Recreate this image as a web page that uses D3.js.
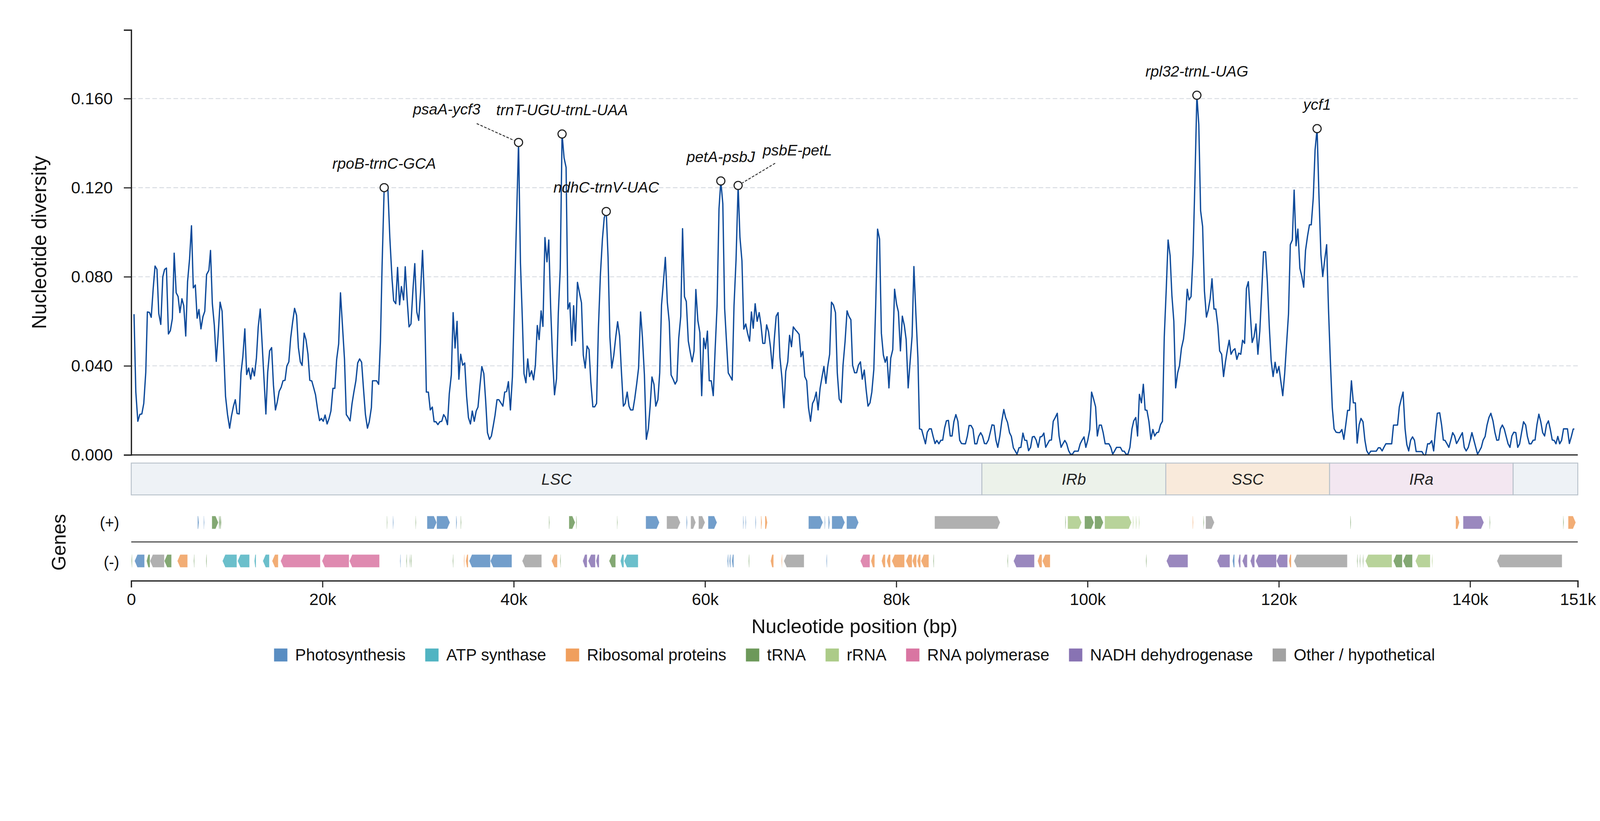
<!DOCTYPE html>
<html>
<head>
<meta charset="utf-8">
<script src="https://cdn.jsdelivr.net/npm/d3@7"></script>
<style>
  html, body { margin: 0; padding: 0; background: #fff; overflow: hidden; }
  svg { display: block; width: 100vw; height: 100vh; font-family: "Liberation Sans", Arial, sans-serif; }
</style>
</head>
<body>
<div id="chart"></div>
<script>
// sliding window nucleotide diversity, [position kb, pi], split by region
const divLSC1 = [
  [0.29,.0632],[0.48,.0282],[0.69,.0151],[0.90,.0182],[1.11,.0184],[1.31,.0231],[1.52,.0371],[1.69,.0642],[1.90,.0640],[2.09,.0618],
  [2.30,.0749],[2.49,.0848],[2.69,.0833],[2.88,.0635],[3.09,.0586],[3.30,.0800],[3.49,.0833],[3.68,.0839],[3.89,.0543],[4.09,.0558],
  [4.30,.0612],[4.49,.0906],[4.70,.0728],[4.90,.0711],[5.09,.0639],[5.30,.0701],[5.49,.0670],[5.70,.0534],[5.89,.0778],[6.10,.0880],
  [6.30,.1029],[6.49,.0750],[6.70,.0763],[6.89,.0614],[7.08,.0653],[7.29,.0566],[7.50,.0621],[7.69,.0645],[7.88,.0810],[8.12,.0829],
  [8.29,.0918],[8.48,.0680],[8.69,.0581],[8.89,.0420],[9.08,.0533],[9.29,.0686],[9.50,.0645],[9.69,.0448],[9.86,.0263],[10.07,.0181],
  [10.29,.0120],[10.48,.0174],[10.69,.0219],[10.88,.0248],[11.07,.0186],[11.29,.0184],[11.48,.0368],[11.67,.0441],[11.88,.0566],[12.07,.0361],
  [12.28,.0390],[12.49,.0340],[12.68,.0390],[12.88,.0355],[13.09,.0435],[13.28,.0575],[13.49,.0655],[13.68,.0505],[13.87,.0352],[14.08,.0184],
  [14.27,.0371],[14.47,.0467],[14.68,.0482],[14.87,.0314],[15.08,.0202],[15.27,.0238],[15.47,.0286],[15.68,.0304],[15.87,.0333],[16.08,.0335],
  [16.27,.0399],[16.48,.0418],[16.67,.0524],[16.87,.0594],[17.08,.0658],[17.29,.0626],[17.48,.0482],[17.68,.0418],[17.87,.0402],[18.08,.0547],
  [18.27,.0518],[18.48,.0452],[18.67,.0335],[18.88,.0332],[19.08,.0301],[19.27,.0270],[19.48,.0206],[19.69,.0154],[19.88,.0164],[20.08,.0151],
  [20.27,.0179],[20.48,.0139],[20.69,.0164],[20.88,.0197],[21.09,.0299],[21.29,.0299],[21.48,.0429],[21.69,.0499],[21.88,.0728],[22.09,.0579],
  [22.30,.0429],[22.49,.0181],[22.69,.0168],[22.88,.0153],[23.09,.0231],[23.28,.0282],[23.49,.0333],[23.68,.0413],[23.88,.0431],[24.09,.0416],
  [24.28,.0301],[24.49,.0181],[24.70,.0120],[24.89,.0149],[25.11,.0212],[25.23,.0333],[25.44,.0333],[25.66,.0333],[25.87,.0317],[26.06,.0511],
  [26.23,.0848],[26.45,.1200],[26.65,.1196],[26.84,.1190],[27.04,.0976],[27.27,.0791],[27.44,.0693],[27.66,.0679],[27.85,.0842],[28.06,.0674],
  [28.25,.0756],[28.48,.0696],[28.65,.0845],[28.86,.0692],[29.05,.0575],[29.25,.0588],[29.46,.0743],[29.65,.0859],[29.86,.0642],[30.06,.0604],
  [30.25,.0728],[30.46,.0918],[30.67,.0683],[30.86,.0282],[31.07,.0282],[31.27,.0202],[31.48,.0215],[31.67,.0149],[31.86,.0149],[32.07,.0136],
  [32.26,.0149],[32.47,.0151],[32.67,.0181],[32.86,.0168],[33.07,.0136],[33.26,.0276],[33.47,.0359],[33.66,.0639],[33.86,.0480],[34.07,.0600],
  [34.26,.0340],[34.45,.0452],[34.66,.0403],[34.87,.0413],[35.07,.0263],[35.26,.0168],[35.47,.0139],[35.66,.0197],[35.87,.0151],[36.07,.0197],
  [36.26,.0215],[36.47,.0314],[36.66,.0397],[36.87,.0365],[37.06,.0244],[37.25,.0100],[37.46,.0070],[37.66,.0085],[37.85,.0130],[38.04,.0178],
  [38.25,.0248],[38.44,.0248],[38.65,.0234],[38.86,.0219],[39.05,.0282],[39.25,.0285],[39.44,.0329],[39.65,.0202],[39.86,.0352],[40.06,.0670],
  [40.27,.1026],[40.50,.1403],[40.70,.0861],[40.89,.0619],[41.07,.0365],[41.27,.0324],[41.46,.0431],[41.65,.0352],[41.86,.0378],[42.07,.0337],
  [42.26,.0403],[42.46,.0581],[42.65,.0518],[42.86,.0647],[43.05,.0577],[43.26,.0976],[43.47,.0867],[43.66,.0965],[43.86,.0658],[44.05,.0441],
  [44.26,.0270],[44.47,.0342],[44.66,.0639],[44.86,.0836],[45.05,.1441],[45.26,.1334],[45.47,.1291],[45.66,.0655],[45.86,.0683],[46.06,.0492],
  [46.26,.0670],[46.45,.0511],[46.66,.0775],[46.87,.0728],[47.08,.0683],[47.27,.0448],[47.47,.0390],[47.66,.0489],[47.87,.0473],[48.06,.0327],
  [48.27,.0216],[48.46,.0216],[48.66,.0231],[48.85,.0569],[49.06,.0810],[49.27,.0969],[49.46,.1065],[49.67,.1093],[49.86,.0887],[50.05,.0530],
  [50.25,.0390],[50.46,.0448],[50.66,.0528],[50.86,.0598],[51.07,.0533],[51.26,.0371],[51.46,.0219],[51.65,.0231],[51.86,.0282],[52.05,.0219],
  [52.22,.0202],[52.46,.0202],[52.65,.0253],[52.86,.0321],[53.05,.0390],[53.26,.0642],[53.45,.0530],[53.66,.0359],[53.86,.0070],[54.07,.0117],
  [54.26,.0219],[54.45,.0350],[54.66,.0317],[54.85,.0219],[55.07,.0248],[55.26,.0368],[55.45,.0673],[55.64,.0772],[55.85,.0887],[56.06,.0683],
  [56.26,.0597],[56.45,.0359],[56.66,.0340],[56.87,.0318],[57.06,.0333],[57.25,.0524],[57.46,.0622],[57.65,.1016],[57.85,.0711],[58.04,.0689],
  [58.25,.0511],[58.46,.0460],[58.65,.0418],[58.85,.0467],[59.04,.0743],[59.25,.0603],[59.46,.0549],[59.65,.0266],[59.86,.0524],[60.05,.0477],
  [60.25,.0556],[60.44,.0333],[60.65,.0333],[60.86,.0266],[61.05,.0467],[61.26,.0670],[61.46,.1105],[61.65,.1230],[61.86,.1128],[62.05,.0658],
  [62.24,.0511],[62.43,.0368],[62.64,.0352],[62.84,.0336],[63.03,.0670],[63.24,.0874],[63.46,.1210],[63.65,.0978],[63.86,.0871],[64.05,.0565],
  [64.26,.0588],[64.45,.0546],[64.66,.0511],[64.85,.0642],[65.04,.0569],[65.24,.0679],[65.45,.0600],[65.66,.0639],[65.85,.0584],[66.04,.0501],
  [66.25,.0501],[66.44,.0584],[66.64,.0553],[66.85,.0482],[67.04,.0388],[67.25,.0524],[67.44,.0623],[67.64,.0639],[67.83,.0439],[68.04,.0346],
  [68.25,.0212],[68.44,.0375],[68.65,.0418],[68.84,.0537],[69.04,.0486],[69.23,.0575],[69.44,.0562],[69.65,.0552],[69.84,.0541],[70.03,.0441],
  [70.23,.0464],[70.43,.0352],[70.63,.0333],[70.82,.0212],[71.03,.0151],[71.24,.0231],[71.43,.0248],[71.63,.0282],[71.82,.0202],[72.03,.0299],
  [72.24,.0352],[72.43,.0397],[72.64,.0321],[72.83,.0397],[73.03,.0452],[73.22,.0686],[73.43,.0673],[73.64,.0639],[73.83,.0368],[74.03,.0251],
  [74.24,.0235],[74.43,.0403],[74.64,.0508],[74.85,.0647],[75.04,.0623],[75.25,.0607],[75.43,.0403],[75.64,.0369],[75.85,.0369],[76.04,.0403],
  [76.25,.0418],[76.44,.0340],[76.65,.0381],[76.85,.0291],[77.04,.0219],[77.25,.0234],[77.44,.0282],[77.65,.0384],[77.84,.0664],[78.04,.1014],
  [78.25,.0969],[78.44,.0546],[78.65,.0448],[78.84,.0416],[79.03,.0441],[79.23,.0301],[79.42,.0435],[79.63,.0473],[79.82,.0744],[80.03,.0677],
  [80.22,.0642],[80.43,.0467],[80.63,.0623],[80.84,.0581],[81.03,.0518],[81.24,.0301],[81.44,.0416],[81.65,.0533],[81.84,.0846],[82.05,.0632],
  [82.26,.0435],[82.43,.0117],[82.65,.0114],[82.84,.0083],[83.05,.0050],[83.24,.0102],[83.45,.0117],[83.66,.0117],[83.85,.0083],[84.05,.0051],
  [84.24,.0065],[84.45,.0050],[84.66,.0066],[84.85,.0066],[85.05,.0121],[85.24,.0153],[85.45,.0155],[85.64,.0085],[85.83,.0085],[86.02,.0149],
  [86.23,.0181],[86.44,.0151],[86.63,.0066],[86.82,.0051],[87.02,.0050],[87.23,.0050],[87.42,.0083],[87.61,.0132],[87.82,.0132],[88.02,.0116],
  [88.21,.0050],[88.42,.0050],[88.61,.0083],[88.82,.0100]
];
const divIRb = [
  [89.01,.0085],[89.22,.0051],[89.42,.0050],[89.63,.0067],[89.82,.0100],[90.01,.0135],[90.22,.0133],[90.42,.0066],[90.61,.0034],[90.82,.0083],
  [91.03,.0151],[91.24,.0204],[91.43,.0168],[91.63,.0146],[91.84,.0100],[92.03,.0083],[92.24,.0032],[92.43,.0018],[92.62,.0003],[92.83,.0032],
  [93.03,.0034],[93.24,.0098],[93.43,.0066],[93.64,.0065],[93.83,.0019],[94.04,.0034],[94.23,.0081],[94.43,.0083],[94.63,.0066],[94.83,.0034],
  [95.04,.0081],[95.23,.0083],[95.43,.0098],[95.62,.0034],[95.83,.0051],[96.02,.0066],[96.22,.0067],[96.41,.0151],[96.62,.0168],[96.83,.0187],
  [97.02,.0085],[97.23,.0034],[97.42,.0050],[97.62,.0065],[97.81,.0051],[98.02,.0019],[98.22,.0003],[98.41,.0003],[98.62,.0017],[98.83,.0017],
  [99.02,.0017],[99.23,.0050],[99.42,.0066],[99.63,.0081],[99.82,.0034],[100.02,.0066],[100.23,.0114],[100.42,.0282],[100.63,.0251],[100.84,.0216],
  [101.02,.0085],[101.23,.0134],[101.44,.0134],[101.63,.0100],[101.84,.0050],[102.02,.0050],[102.23,.0050],[102.43,.0034],[102.63,.0003],[102.84,.0019],
  [103.03,.0034],[103.24,.0034],[103.43,.0034],[103.64,.0017],[103.83,.0017],[104.03,.0003],[104.22,.0003],[104.43,.0034],[104.64,.0117],[104.83,.0153],
  [105.04,.0168],[105.23,.0085],[105.42,.0272],[105.63,.0234],[105.83,.0317],[106.02,.0202],[106.21,.0200],[106.42,.0149],[106.62,.0070],[106.83,.0114],
  [107.02,.0085],[107.23,.0100],[107.42,.0102],[107.63,.0136],[107.83,.0151],[108.02,.0530]
];
const divSSC = [
  [108.23,.0747],[108.42,.0965],[108.63,.0895],[108.82,.0715],[109.02,.0600],[109.21,.0301],[109.42,.0368],[109.61,.0401],[109.82,.0480],[110.03,.0520],
  [110.22,.0597],[110.42,.0744],[110.61,.0696],[110.82,.0711],[111.03,.0899],[111.22,.1220],[111.43,.1615],[111.63,.1484],[111.82,.1096],[112.03,.1026],
  [112.22,.0736],[112.43,.0619],[112.62,.0651],[112.82,.0702],[113.01,.0791],[113.22,.0655],[113.41,.0655],[113.62,.0581],[113.81,.0467],[114.02,.0452],
  [114.22,.0352],[114.41,.0416],[114.60,.0467],[114.81,.0515],[115.00,.0452],[115.21,.0469],[115.41,.0477],[115.61,.0429],[115.81,.0457],[116.02,.0452],
  [116.21,.0515],[116.42,.0501],[116.61,.0747],[116.81,.0778],[117.00,.0645],[117.21,.0505],[117.40,.0530],[117.61,.0588],[117.81,.0452],[118.01,.0556],
  [118.21,.0734],[118.40,.0912],[118.61,.0912],[118.80,.0778],[119.01,.0569],[119.20,.0422],[119.40,.0352],[119.61,.0416],[119.80,.0368],[120.01,.0397],
  [120.20,.0333],[120.41,.0266],[120.61,.0365],[120.80,.0492],[121.01,.0632],[121.20,.0944],[121.41,.0965],[121.60,.1189],[121.80,.0939],[121.99,.1014],
  [122.20,.0838],[122.39,.0804],[122.60,.0753],[122.79,.0918],[123.00,.0982],[123.20,.1033],[123.39,.1033],[123.60,.1154],[123.79,.1370],[124.00,.1465],
  [124.19,.1173],[124.40,.0899],[124.59,.0801],[124.79,.0874],[125.00,.0944],[125.19,.0658]
];
const divIRa = [
  [125.38,.0429],[125.59,.0212],[125.78,.0117],[125.99,.0102],[126.19,.0100],[126.38,.0100],[126.59,.0114],[126.80,.0070],[127.00,.0136],[127.19,.0200],
  [127.39,.0200],[127.59,.0333],[127.79,.0234],[128.00,.0234],[128.19,.0053],[128.40,.0136],[128.59,.0164],[128.80,.0149],[129.00,.0066],[129.19,.0019],
  [129.40,.0003],[129.61,.0017],[129.80,.0017],[130.00,.0017],[130.19,.0017],[130.40,.0032],[130.59,.0032],[130.80,.0018],[130.99,.0034],[131.19,.0050],
  [131.40,.0050],[131.59,.0050],[131.80,.0050],[131.99,.0134],[132.20,.0134],[132.41,.0134],[132.60,.0216],[132.80,.0251],[132.99,.0282],[133.20,.0117],
  [133.38,.0047],[133.58,.0018],[133.78,.0066],[133.98,.0081],[134.18,.0066],[134.36,.0015],[134.56,.0015],[134.76,.0015],[134.96,.0015],[135.16,.0000],
  [135.34,.0000],[135.56,.0050],[135.77,.0050],[135.99,.0064],[136.19,.0018],[136.37,.0104],[136.57,.0187],[136.82,.0189],[137.02,.0134],[137.20,.0067],
  [137.38,.0065],[137.58,.0050],[137.78,.0034],[137.98,.0066],[138.18,.0100],[138.38,.0085],[138.58,.0051],[138.78,.0066],[138.98,.0083],[139.19,.0100],
  [139.39,.0034],[139.59,.0018],[139.81,.0034],[140.01,.0067],[140.19,.0100],[140.39,.0067],[140.59,.0034],[140.78,.0003],[140.97,.0018],[141.17,.0034],
  [141.36,.0066],[141.57,.0083],[141.77,.0134],[141.97,.0168],[142.17,.0187],[142.39,.0153],[142.59,.0102],[142.79,.0066],[142.99,.0067],[143.17,.0117],
  [143.37,.0134],[143.57,.0117],[143.77,.0083],[143.97,.0050],[144.17,.0034],[144.37,.0085]
];
const divLSC2 = [
  [144.57,.0102],[144.78,.0100],[144.98,.0034],[145.18,.0050],[145.38,.0100],[145.59,.0149],[145.81,.0134],[145.99,.0083],[146.19,.0050],[146.39,.0050],
  [146.59,.0066],[146.79,.0067],[146.99,.0136],[147.19,.0183],[147.39,.0149],[147.59,.0100],[147.79,.0085],[147.99,.0136],[148.19,.0153],[148.39,.0114],
  [148.59,.0067],[148.79,.0065],[148.98,.0050],[149.17,.0083],[149.37,.0050],[149.57,.0066],[149.77,.0117],[149.97,.0117],[150.18,.0117],[150.38,.0051],
  [150.60,.0085],[150.78,.0116],[150.90,.0117]
];

// genome regions (bp)
const genomeLength = 151260;
const regionNames = ['LSC', 'IRb', 'SSC', 'IRa', 'LSC'];
const regionStart = [0, 88950, 108180, 125310, 144500];
const regionEnd = [88950, 108180, 125310, 144500, 151260];

// genes: [start kb, end kb, category]
const genesPlus = [
  [6.94,7.08,'photo'],[7.57,7.65,'photo'],[8.43,9.11,'trna'],[9.20,9.26,'trna'],[9.33,9.39,'trna'],
  [26.72,26.79,'trna'],[27.35,27.43,'photo'],[29.72,29.79,'trna'],[30.93,31.94,'photo'],[31.94,33.33,'photo'],
  [33.96,34.06,'photo'],[34.44,34.52,'trna'],[43.67,43.75,'trna'],[45.77,46.42,'trna'],[46.52,46.60,'trna'],
  [50.79,50.86,'trna'],[53.80,55.23,'photo'],[55.99,57.42,'other'],[58.05,58.15,'photo'],[58.50,59.03,'other'],
  [59.32,60.00,'other'],[60.32,61.25,'photo'],[63.97,64.05,'photo'],[64.22,64.30,'photo'],[65.26,65.34,'photo'],
  [65.84,65.95,'ribo'],[66.27,66.52,'ribo'],[70.82,72.33,'photo'],[72.50,72.58,'photo'],[72.90,73.04,'photo'],
  [73.26,74.62,'photo'],[74.80,76.06,'photo'],[84.01,90.86,'other'],[97.66,97.74,'trna'],[97.92,99.38,'rrna'],
  [99.69,100.67,'trna'],[100.74,101.65,'trna'],[101.79,104.60,'rrna'],[104.73,104.81,'rrna'],[105.05,105.13,'rrna'],
  [105.36,105.44,'rrna'],[110.98,111.06,'ribo'],[112.10,112.18,'trna'],[112.35,113.26,'other'],[127.47,127.55,'trna'],
  [138.49,138.88,'ribo'],[139.27,141.44,'ndh'],[142.03,142.11,'trna'],[149.72,149.80,'trna'],[150.25,151.05,'ribo']
];
const genesMinus = [
  [0.02,0.10,'trna'],[0.35,1.39,'photo'],[1.60,1.96,'trna'],[1.96,3.46,'other'],[3.46,4.21,'trna'],
  [4.82,5.89,'ribo'],[6.53,6.61,'trna'],[7.82,7.90,'trna'],[9.54,11.04,'atp'],[11.12,12.37,'atp'],
  [12.87,13.05,'atp'],[13.76,14.44,'atp'],[14.73,15.37,'ribo'],[15.62,19.77,'rnapol'],[19.95,22.78,'rnapol'],
  [22.81,25.96,'rnapol'],[28.10,28.18,'photo'],[28.75,28.83,'trna'],[29.11,29.19,'trna'],[29.25,29.33,'trna'],
  [33.61,33.69,'trna'],[34.77,34.85,'ribo'],[34.98,35.23,'ribo'],[35.33,37.55,'photo'],[37.55,39.80,'photo'],
  [40.88,42.92,'other'],[43.95,44.56,'ribo'],[44.84,44.92,'trna'],[47.21,47.67,'ndh'],[47.78,48.53,'ndh'],
  [48.60,48.93,'ndh'],[49.97,50.65,'trna'],[51.15,51.51,'atp'],[51.54,53.01,'atp'],[62.33,62.45,'photo'],
  [62.54,62.68,'photo'],[62.80,63.00,'photo'],[64.55,64.63,'trna'],[66.85,67.17,'ribo'],[67.99,68.07,'ribo'],
  [68.24,70.36,'other'],[72.68,72.76,'photo'],[76.24,77.24,'rnapol'],[77.35,77.74,'ribo'],[78.46,78.85,'ribo'],
  [79.00,79.39,'ribo'],[79.53,80.86,'ribo'],[81.00,81.65,'ribo'],[81.68,82.11,'ribo'],[82.18,82.54,'ribo'],
  [82.58,83.40,'ribo'],[83.86,83.94,'trna'],[91.61,91.69,'trna'],[92.26,94.44,'ndh'],[94.77,95.23,'ribo'],
  [95.27,96.09,'ribo'],[106.10,106.18,'trna'],[108.25,110.49,'ndh'],[113.54,114.88,'ndh'],[115.16,115.37,'photo'],
  [115.75,116.00,'ndh'],[116.18,116.70,'ndh'],[117.02,117.47,'ndh'],[117.58,119.75,'ndh'],[119.75,120.91,'ndh'],
  [121.05,121.30,'ribo'],[121.58,127.16,'other'],[128.17,128.25,'trna'],[128.45,128.53,'trna'],[128.77,128.85,'trna'],
  [129.05,131.83,'rrna'],[131.97,132.91,'trna'],[132.98,133.97,'trna'],[134.28,135.83,'rrna'],[136.00,136.08,'rrna'],
  [142.81,149.62,'other']
];

const categoryKeys = ['photo', 'atp', 'ribo', 'trna', 'rrna', 'rnapol', 'ndh', 'other'];
const categoryLabels = ['Photosynthesis', 'ATP synthase', 'Ribosomal proteins', 'tRNA', 'rRNA', 'RNA polymerase', 'NADH dehydrogenase', 'Other / hypothetical'];

// highly variable regions
const peakNames = ['rpoB-trnC-GCA', 'psaA-ycf3', 'trnT-UGU-trnL-UAA', 'ndhC-trnV-UAC', 'petA-psbJ', 'psbE-petL', 'rpl32-trnL-UAG', 'ycf1'];
const peakKb = [26.45, 40.50, 45.05, 49.67, 61.65, 63.46, 111.43, 124.00];

const yTicks = [0, 0.04, 0.08, 0.12, 0.16];
const xTicks = [0, 20000, 40000, 60000, 80000, 100000, 120000, 140000, genomeLength];

const width = 4322;
const height = 2102;
const plot = { left: 354.5, right: 4262, top: 81, bottom: 1229 };
const font = '"Liberation Sans", Arial, sans-serif';

const catColor = d3.scaleOrdinal()
  .domain(categoryKeys)
  .range(['#598dc2', '#51b4c2', '#f09f5d', '#6d995a', '#accb88', '#d975a2', '#8873b3', '#a2a2a2']);
const regionColor = { LSC: '#eef2f6', IRb: '#ecf2ea', SSC: '#f9eadb', IRa: '#f3e7f1' };

const svg = d3.select('#chart')
  .append('svg')
  .attr('viewBox', `0 0 ${width} ${height}`)
  .attr('preserveAspectRatio', 'xMidYMin meet');

svg.append('rect').attr('width', width).attr('height', height).attr('fill', '#fff');

const xScale = d3.scaleLinear().domain([0, genomeLength]).range([plot.left, plot.right]);
const yScale = d3.scaleLinear().domain([0, 0.1908]).range([plot.bottom, plot.top]);

const diversity = [...divLSC1, ...divIRb, ...divSSC, ...divIRa, ...divLSC2];

// grid
svg.append('g')
  .selectAll('line')
  .data(yTicks.filter((d) => d > 0))
  .join('line')
  .attr('x1', plot.left)
  .attr('x2', plot.right)
  .attr('y1', (d) => yScale(d))
  .attr('y2', (d) => yScale(d))
  .attr('stroke', '#d8dce2')
  .attr('stroke-width', 2.5)
  .attr('stroke-dasharray', '12.5,6.5');

// diversity line
const line = d3.line()
  .x((d) => xScale(d[0] * 1000))
  .y((d) => yScale(d[1]));

svg.append('path')
  .datum(diversity)
  .attr('d', line)
  .attr('fill', 'none')
  .attr('stroke', '#0d4a9a')
  .attr('stroke-width', 3.5)
  .attr('stroke-linejoin', 'round');

// baseline of the upper panel
svg.append('line')
  .attr('x1', plot.left).attr('x2', plot.right)
  .attr('y1', plot.bottom).attr('y2', plot.bottom)
  .attr('stroke', '#222').attr('stroke-width', 3);

// y axis
const yAxis = d3.axisLeft(yScale)
  .tickValues(yTicks)
  .tickFormat(d3.format('.3f'))
  .tickSize(20)
  .tickSizeOuter(20)
  .tickPadding(30);

const yAxisG = svg.append('g')
  .attr('transform', `translate(${plot.left}, 0)`)
  .call(yAxis);
yAxisG.attr('font-family', font).attr('font-size', 45);
yAxisG.select('.domain').attr('stroke', '#222').attr('stroke-width', 3.5);
yAxisG.selectAll('.tick line').attr('stroke', '#222').attr('stroke-width', 3);
yAxisG.selectAll('.tick text').attr('fill', '#111');

svg.append('text')
  .attr('transform', `translate(125, ${(plot.top + plot.bottom) / 2}) rotate(-90)`)
  .attr('text-anchor', 'middle')
  .attr('font-family', font)
  .attr('font-size', 54)
  .attr('fill', '#111')
  .text('Nucleotide diversity');

// peak markers and labels
const labelShift = {
  'psaA-ycf3': { dx: -194, dy: -76, lx: -113, ly: -51 },
  'psbE-petL': { dx: 160, dy: -81, lx: 100, ly: -60 },
};

const peaks = peakNames.map((name, i) => {
  const p = d3.least(diversity, (d) => Math.abs(d[0] - peakKb[i]));
  return { name, x: xScale(p[0] * 1000), y: yScale(p[1]) };
});

const peakG = svg.append('g');
peaks.forEach((p) => {
  const s = labelShift[p.name] || { dx: 0, dy: -51 };
  if (s.lx !== undefined) {
    const ang = Math.atan2(s.ly, s.lx);
    peakG.append('line')
      .attr('x1', p.x + s.lx).attr('y1', p.y + s.ly)
      .attr('x2', p.x + Math.cos(ang) * 13).attr('y2', p.y + Math.sin(ang) * 13)
      .attr('stroke', '#333')
      .attr('stroke-width', 2.5)
      .attr('stroke-dasharray', '7,4');
  }
  peakG.append('circle')
    .attr('cx', p.x).attr('cy', p.y).attr('r', 11)
    .attr('fill', '#fff').attr('stroke', '#222').attr('stroke-width', 3);
  peakG.append('text')
    .attr('x', p.x + s.dx).attr('y', p.y + s.dy)
    .attr('text-anchor', 'middle')
    .attr('font-family', font)
    .attr('font-size', 41)
    .attr('font-style', 'italic')
    .attr('fill', '#111')
    .text(p.name);
});

// region bar
const regionTop = 1251, regionH = 86;
const regionG = svg.append('g');
regionNames.forEach((name, i) => {
  const x0 = xScale(regionStart[i]), x1 = xScale(regionEnd[i]);
  regionG.append('rect')
    .attr('x', x0).attr('y', regionTop)
    .attr('width', x1 - x0).attr('height', regionH)
    .attr('fill', regionColor[name])
    .attr('stroke', '#b9c2cb')
    .attr('stroke-width', 2.5);
  if (x1 - x0 > 300) {
    regionG.append('text')
      .attr('x', (x0 + x1) / 2).attr('y', regionTop + regionH / 2)
      .attr('dy', '0.36em')
      .attr('text-anchor', 'middle')
      .attr('font-family', font)
      .attr('font-size', 42)
      .attr('font-style', 'italic')
      .attr('fill', '#222')
      .text(name);
  }
});

// gene tracks
const trackPlusY = 1394, trackMinusY = 1498, trackH = 35;

function genePath(d, strand) {
  let x0 = xScale(d[0] * 1000), x1 = xScale(d[1] * 1000);
  if (x1 - x0 < 1.6) { x0 -= 0.8; x1 += 0.8; }
  const w = x1 - x0;
  const tip = Math.min(7.5, w * 0.5);
  const y0 = strand > 0 ? trackPlusY : trackMinusY;
  const ym = y0 + trackH / 2, y1 = y0 + trackH;
  if (strand > 0) return `M${x0},${y0}H${x1 - tip}L${x1},${ym}L${x1 - tip},${y1}H${x0}Z`;
  return `M${x1},${y0}H${x0 + tip}L${x0},${ym}L${x0 + tip},${y1}H${x1}Z`;
}

const genesG = svg.append('g');
genesG.selectAll('path.plus')
  .data(genesPlus)
  .join('path')
  .attr('class', 'plus')
  .attr('d', (d) => genePath(d, 1))
  .attr('fill', (d) => catColor(d[2]))
  .attr('fill-opacity', 0.85)
  .attr('stroke', '#fff')
  .attr('stroke-opacity', 0.7)
  .attr('stroke-width', 1);
genesG.selectAll('path.minus')
  .data(genesMinus)
  .join('path')
  .attr('class', 'minus')
  .attr('d', (d) => genePath(d, -1))
  .attr('fill', (d) => catColor(d[2]))
  .attr('fill-opacity', 0.85)
  .attr('stroke', '#fff')
  .attr('stroke-opacity', 0.7)
  .attr('stroke-width', 1);

// strand separator
svg.append('line')
  .attr('x1', plot.left).attr('x2', plot.right)
  .attr('y1', 1464).attr('y2', 1464)
  .attr('stroke', '#333').attr('stroke-width', 2.5);

svg.append('text').attr('x', 322).attr('y', 1412).attr('dy', '0.36em')
  .attr('text-anchor', 'end').attr('font-family', font).attr('font-size', 42).attr('fill', '#111')
  .text('(+)');
svg.append('text').attr('x', 322).attr('y', 1518).attr('dy', '0.36em')
  .attr('text-anchor', 'end').attr('font-family', font).attr('font-size', 42).attr('fill', '#111')
  .text('(-)');
svg.append('text')
  .attr('transform', 'translate(177, 1465) rotate(-90)')
  .attr('text-anchor', 'middle')
  .attr('font-family', font)
  .attr('font-size', 52)
  .attr('fill', '#111')
  .text('Genes');

// x axis
const xAxis = d3.axisBottom(xScale)
  .tickValues(xTicks)
  .tickFormat((d) => d === 0 ? '0' : `${Math.round(d / 1000)}k`)
  .tickSize(18)
  .tickSizeOuter(18)
  .tickPadding(15);

const xAxisG = svg.append('g')
  .attr('transform', 'translate(0, 1569)')
  .call(xAxis);
xAxisG.attr('font-family', font).attr('font-size', 45);
xAxisG.select('.domain').attr('stroke', '#222').attr('stroke-width', 3.5);
xAxisG.selectAll('.tick line').attr('stroke', '#222').attr('stroke-width', 3);
xAxisG.selectAll('.tick text').attr('fill', '#111');

svg.append('text')
  .attr('x', (plot.left + plot.right) / 2)
  .attr('y', 1710)
  .attr('text-anchor', 'middle')
  .attr('font-family', font)
  .attr('font-size', 53)
  .attr('fill', '#111')
  .text('Nucleotide position (bp)');

// legend
const legendG = svg.append('g');
const swatch = 36, swatchGap = 21, itemGap = 53;
let cursor = 0;
categoryKeys.forEach((key, i) => {
  const item = legendG.append('g').attr('transform', `translate(${cursor}, 0)`);
  item.append('rect')
    .attr('x', 0).attr('y', 1752)
    .attr('width', swatch).attr('height', 35)
    .attr('fill', catColor(key));
  const t = item.append('text')
    .attr('x', swatch + swatchGap).attr('y', 1784)
    .attr('font-family', font)
    .attr('font-size', 44)
    .attr('fill', '#111')
    .text(categoryLabels[i]);
  cursor += swatch + swatchGap + t.node().getComputedTextLength() + itemGap;
});
const legendW = cursor - itemGap;
legendG.attr('transform', `translate(${(plot.left + plot.right) / 2 - legendW / 2}, 0)`);
</script>
</body>
</html>
